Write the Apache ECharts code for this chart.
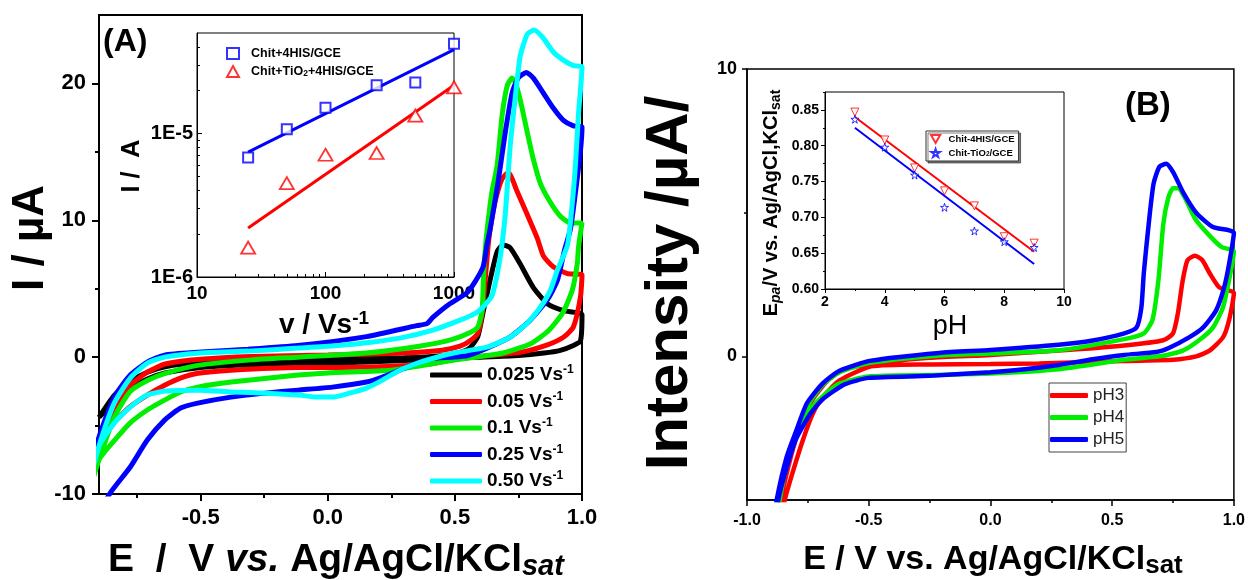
<!DOCTYPE html>
<html>
<head>
<meta charset="utf-8">
<script src="https://cdn.jsdelivr.net/npm/echarts@6.0.0/dist/echarts.min.js"></script>
<style>
  html, body { margin: 0; padding: 0; background: #fff; }
  #chart { width: 1248px; height: 580px; }
</style>
</head>
<body>
<div id="chart"></div>
<script>
// ---------- Panel A: CVs at different scan rates, [E / V, I / µA] ----------
const cvScan025 = [
  [-0.9, -4.4], [-0.84, -2.8], [-0.78, -1.8], [-0.71, -1.1], [-0.64, -0.7], [-0.5, -0.4], [-0.3, -0.25],
  [0.0, -0.15], [0.3, -0.05], [0.45, 0.1], [0.52, 0.35], [0.56, 0.7], [0.59, 1.5], [0.61, 3.2],
  [0.638, 5.6], [0.666, 7.7], [0.69, 8.2], [0.717, 8.0], [0.757, 6.8], [0.808, 5.1], [0.864, 3.9],
  [0.927, 3.4], [1.0, 3.1],
  [0.994, 1.2], [0.966, 0.85], [0.915, 0.5], [0.85, 0.3], [0.75, 0.12], [0.6, 0.0], [0.45, -0.1],
  [0.3, -0.25], [0.0, -0.45], [-0.3, -0.55], [-0.5, -0.75], [-0.64, -1.15], [-0.71, -1.6],
  [-0.78, -2.4], [-0.84, -3.3], [-0.9, -4.4]
];
const cvScan05 = [
  [-0.95, -9.5], [-0.9, -6.6], [-0.84, -3.7], [-0.78, -2.1], [-0.71, -1.1], [-0.64, -0.5], [-0.5, -0.15],
  [-0.3, 0.05], [0.0, 0.15], [0.3, 0.3], [0.45, 0.5], [0.52, 0.8], [0.56, 1.2], [0.59, 1.75],
  [0.607, 3.2], [0.619, 5.6], [0.63, 8.0], [0.64, 9.5], [0.66, 11.5], [0.685, 13.0], [0.71, 13.5],
  [0.745, 12.1], [0.785, 10.4], [0.824, 8.7], [0.848, 7.4], [0.887, 6.6], [0.943, 6.1], [1.0, 6.0],
  [0.994, 4.4], [0.966, 2.2], [0.927, 1.45], [0.864, 0.9], [0.757, 0.35], [0.626, 0.1], [0.5, -0.15],
  [0.4, -0.5], [0.2, -0.7], [0.0, -0.75], [-0.12, -0.75], [-0.38, -0.95], [-0.51, -1.17],
  [-0.58, -1.53], [-0.64, -2.04], [-0.71, -2.77], [-0.78, -3.65], [-0.856, -5.1], [-0.9, -6.6],
  [-0.95, -9.5]
];
const cvScan1 = [
  [-0.95, -10.5], [-0.9, -7.5], [-0.84, -4.4], [-0.777, -2.5], [-0.71, -1.7], [-0.642, -1.2],
  [-0.512, -0.6], [-0.3, -0.2], [-0.117, 0.0], [0.15, 0.3], [0.36, 0.8], [0.49, 1.3], [0.56, 1.8],
  [0.59, 2.2], [0.607, 3.4], [0.612, 5.6], [0.619, 7.8], [0.628, 9.5], [0.645, 12.0], [0.666, 14.0],
  [0.686, 17.7], [0.706, 19.85], [0.725, 20.4], [0.737, 20.1], [0.757, 18.8], [0.785, 16.4],
  [0.808, 14.5], [0.836, 12.7], [0.876, 11.3], [0.915, 10.3], [0.955, 9.8], [1.0, 9.8],
  [0.986, 8.0], [0.982, 6.9], [0.962, 4.9], [0.923, 3.2], [0.87, 1.97], [0.8, 1.0], [0.69, 0.3],
  [0.56, -0.05], [0.45, -0.35], [0.36, -0.65], [0.25, -0.95], [0.0, -1.15], [-0.117, -1.31],
  [-0.38, -1.82], [-0.512, -2.19], [-0.579, -2.55], [-0.642, -3.14], [-0.71, -3.86], [-0.777, -4.8],
  [-0.84, -6.1], [-0.9, -7.5], [-0.95, -10.5]
];
const cvScan25 = [
  [-0.95, -9.5], [-0.9, -5.84], [-0.84, -2.92], [-0.777, -1.31], [-0.71, -0.36], [-0.642, 0.15],
  [-0.512, 0.36], [-0.314, 0.58], [-0.117, 0.85], [0.152, 1.5], [0.35, 2.3], [0.39, 2.45],
  [0.413, 2.9], [0.48, 3.9], [0.547, 4.7], [0.579, 5.5], [0.611, 6.6], [0.626, 8.2], [0.638, 9.3],
  [0.67, 12.8], [0.698, 16.4], [0.725, 19.3], [0.749, 20.4], [0.781, 20.8], [0.808, 20.4],
  [0.848, 19.3], [0.887, 18.2], [0.927, 17.3], [0.966, 16.9], [1.0, 16.8],
  [0.994, 15.1], [0.974, 12.0], [0.955, 9.4], [0.931, 7.8], [0.903, 5.6], [0.864, 4.2], [0.796, 2.7],
  [0.717, 1.46], [0.626, 0.66], [0.547, 0.1], [0.48, 0.0], [0.413, -0.1], [0.35, -0.44],
  [0.283, -0.95], [0.215, -1.46], [0.152, -1.82], [0.018, -2.19], [-0.117, -2.41], [-0.247, -2.63],
  [-0.381, -2.92], [-0.512, -3.36], [-0.579, -3.72], [-0.642, -4.6], [-0.71, -6.06], [-0.777, -8.03],
  [-0.856, -9.93], [-0.9, -11.5], [-0.95, -14]
];
const cvScan50 = [
  [-0.95, -10], [-0.9, -6.5], [-0.84, -3.36], [-0.777, -1.53], [-0.71, -0.44], [-0.642, 0.0],
  [-0.512, 0.29], [-0.314, 0.44], [-0.117, 0.66], [0.1, 0.95], [0.283, 1.39], [0.413, 1.97],
  [0.52, 2.7], [0.58, 3.2], [0.61, 3.65], [0.646, 4.5], [0.678, 7.3], [0.698, 10.4], [0.717, 15.3],
  [0.737, 18.9], [0.757, 22.0], [0.785, 23.6], [0.812, 23.9], [0.848, 23.3], [0.887, 22.3],
  [0.927, 21.7], [0.966, 21.3], [1.0, 21.2],
  [0.986, 17.7], [0.974, 14.0], [0.962, 11.3], [0.943, 8.2], [0.903, 6.35], [0.876, 4.9],
  [0.836, 3.65], [0.785, 2.5], [0.717, 1.46], [0.626, 0.73], [0.492, 0.29], [0.45, 0.1],
  [0.36, -0.4], [0.283, -0.95], [0.215, -1.68], [0.152, -2.26], [0.085, -2.63], [0.018, -2.92],
  [-0.045, -2.92], [-0.113, -2.77], [-0.243, -2.63], [-0.377, -2.55], [-0.508, -2.41],
  [-0.638, -2.48], [-0.71, -2.77], [-0.777, -3.65], [-0.84, -4.82], [-0.9, -6.5], [-0.95, -10]
];
const scanRateLabels = ['0.025 Vs-1', '0.05 Vs-1', '0.1 Vs-1', '0.25 Vs-1', '0.50 Vs-1'];
const scanRateColors = ['#000000', '#ff0000', '#00ee00', '#0000ff', '#00ffff'];

// Inset A: peak current vs scan rate (log-log)
const scanRates = [25, 50, 100, 250, 500, 1000];
const ipChit4HIS = [6.8e-6, 1.07e-5, 1.51e-5, 2.16e-5, 2.26e-5, 4.2e-5];
const ipChitTiO24HIS = [1.6e-6, 4.5e-6, 7.1e-6, 7.3e-6, 1.33e-5, 2.09e-5];
const fitChit4HIS = [[25, 7.4e-6], [1000, 3.83e-5]];
const fitChitTiO24HIS = [[25, 2.19e-6], [1000, 2.16e-5]];

// ---------- Panel B: CVs at different pH, [E / V, I / µA] ----------
const cvPH3 = [
  [-0.95, -8.5], [-0.862, -5.0], [-0.82, -3.5], [-0.78, -2.4], [-0.73, -1.5], [-0.67, -0.85],
  [-0.6, -0.45], [-0.49, -0.25], [-0.25, -0.05], [0.0, 0.05], [0.28, 0.2], [0.55, 0.38], [0.71, 0.56],
  [0.75, 0.8], [0.77, 1.5], [0.79, 2.65], [0.81, 3.35], [0.84, 3.5], [0.87, 3.35], [0.9, 2.9],
  [0.94, 2.4], [1.0, 2.2],
  [0.98, 1.25], [0.955, 0.66], [0.9, 0.2], [0.845, 0.0], [0.75, -0.12], [0.61, -0.15], [0.4, -0.2],
  [0.2, -0.25], [0.0, -0.27], [-0.25, -0.28], [-0.49, -0.35], [-0.62, -0.84], [-0.69, -1.43],
  [-0.73, -2.0], [-0.77, -2.9], [-0.81, -3.97], [-0.845, -5.0], [-0.95, -9]
];
const cvPH4 = [
  [-0.95, -8.5], [-0.87, -5.0], [-0.83, -3.6], [-0.79, -2.6], [-0.75, -1.7], [-0.69, -1.0],
  [-0.62, -0.55], [-0.49, -0.22], [-0.21, 0.03], [0.0, 0.1], [0.28, 0.21], [0.55, 0.6], [0.63, 0.8],
  [0.665, 1.25], [0.69, 2.65], [0.71, 4.6], [0.73, 5.5], [0.75, 5.85], [0.77, 5.85], [0.8, 5.5],
  [0.84, 4.8], [0.9, 4.2], [0.95, 3.8], [1.0, 3.65],
  [0.98, 2.65], [0.955, 1.7], [0.914, 1.0], [0.857, 0.56], [0.79, 0.2], [0.71, 0.02], [0.55, -0.12],
  [0.28, -0.45], [0.0, -0.6], [-0.25, -0.65], [-0.5, -0.7], [-0.62, -0.95], [-0.69, -1.4],
  [-0.75, -1.95], [-0.8, -2.8], [-0.84, -3.85], [-0.866, -5.0], [-0.95, -8.5]
];
const cvPH5 = [
  [-0.95, -8.5], [-0.878, -5.0], [-0.837, -3.5], [-0.796, -2.55], [-0.755, -1.65], [-0.69, -0.95],
  [-0.62, -0.5], [-0.49, -0.15], [-0.21, 0.12], [0.0, 0.22], [0.28, 0.4], [0.42, 0.55], [0.55, 0.8],
  [0.6, 1.0], [0.62, 1.7], [0.63, 2.9], [0.65, 4.6], [0.67, 6.0], [0.694, 6.6], [0.722, 6.7],
  [0.751, 6.4], [0.792, 5.7], [0.845, 5.0], [0.914, 4.5], [1.0, 4.3],
  [0.98, 3.2], [0.96, 2.4], [0.927, 1.6], [0.873, 1.0], [0.816, 0.66], [0.735, 0.3], [0.682, 0.15],
  [0.55, 0.05], [0.42, -0.1], [0.28, -0.3], [0.14, -0.45], [0.0, -0.55], [-0.25, -0.68],
  [-0.5, -0.75], [-0.6, -0.98], [-0.69, -1.5], [-0.74, -2.0], [-0.8, -2.9], [-0.84, -3.95],
  [-0.872, -5.0], [-0.95, -8.5]
];
const phLabels = ['pH3', 'pH4', 'pH5'];
const phColors = ['#ff0000', '#00ee00', '#0000ff'];

// Inset B: anodic peak potential vs pH
const pHValues = [3, 4, 5, 6, 7, 8, 9];
const epaChit4HIS = [0.847, 0.808, 0.769, 0.737, 0.716, 0.673, 0.664];
const epaChitTiO2 = [0.837, 0.798, 0.759, 0.714, 0.681, 0.666, 0.658];
const fitEpaChit4HIS = [[3, 0.840], [9, 0.652]];
const fitEpaChitTiO2 = [[3, 0.825], [9, 0.635]];

// ---------- chart ----------
const FONT = "'Liberation Sans', Arial, Helvetica, sans-serif";
const BLACK = '#000';
const STAR = 'path://M50,0 L61,35 L98,35 L68,57 L79,91 L50,70 L21,91 L32,57 L2,35 L39,35 Z';
const DOWN_TRI = 'path://M0,0 L100,0 L50,87 Z';

function labelStyle(size, extra) {
  return Object.assign({ color: BLACK, fontFamily: FONT, fontWeight: 'bold', fontSize: size }, extra || {});
}
// an axis that only draws extra (minor) tick marks
function tickOnlyAxis(type, gridIndex, min, max, position, values, len, width, inside) {
  return {
    type: type, gridIndex: gridIndex, min: min, max: max, position: position,
    axisLine: { show: false, onZero: false }, axisLabel: { show: false }, splitLine: { show: false },
    axisTick: { show: true, inside: !!inside, length: len, lineStyle: { color: BLACK, width: width }, customValues: values }
  };
}

const xAxes = [
  { // 0: panel A potential
    type: 'value', gridIndex: 0, min: -0.9, max: 1.0, position: 'bottom',
    axisLine: { onZero: false, lineStyle: { color: BLACK, width: 2 } },
    axisTick: { length: 7, lineStyle: { color: BLACK, width: 2 }, customValues: [-0.5, 0, 0.5, 1.0] },
    axisLabel: labelStyle(22, { margin: 13, customValues: [-0.5, 0, 0.5, 1.0], formatter: v => v.toFixed(1) }),
    splitLine: { show: false }
  },
  tickOnlyAxis('value', 0, -0.9, 1.0, 'bottom', [-0.75, -0.25, 0.25, 0.75], 4, 2), // 1
  { // 2: inset A scan rate (log)
    type: 'log', logBase: 10, gridIndex: 1, min: 10, max: 1000, position: 'bottom',
    axisLine: { onZero: false, lineStyle: { color: BLACK, width: 1 } },
    axisTick: { inside: true, length: 5, lineStyle: { color: BLACK, width: 1 }, customValues: [10, 100, 1000] },
    axisLabel: labelStyle(19, { margin: 7, customValues: [10, 100, 1000], formatter: v => String(Math.round(v)) }),
    splitLine: { show: false }
  },
  tickOnlyAxis('log', 1, 10, 1000, 'bottom', [20, 30, 40, 50, 60, 70, 80, 90, 200, 300, 400, 500, 600, 700, 800, 900], 3, 1, true), // 3
  { // 4: panel B potential
    type: 'value', gridIndex: 2, min: -1.0, max: 1.0, interval: 0.5, position: 'bottom',
    axisLine: { onZero: false, lineStyle: { color: BLACK, width: 1.5 } },
    axisTick: { length: 6, lineStyle: { color: BLACK, width: 1.5 } },
    minorTick: { show: true, splitNumber: 2, length: 3, lineStyle: { color: BLACK, width: 1.5 } },
    axisLabel: labelStyle(16, { margin: 13, formatter: v => v.toFixed(1) }),
    splitLine: { show: false }, minorSplitLine: { show: false }
  },
  { // 5: inset B pH
    type: 'value', gridIndex: 3, min: 2, max: 10, interval: 2, position: 'bottom',
    axisLine: { onZero: false, lineStyle: { color: BLACK, width: 1 } },
    axisTick: { length: 4, lineStyle: { color: BLACK, width: 1 } },
    minorTick: { show: true, splitNumber: 2, length: 2, lineStyle: { color: BLACK, width: 1 } },
    axisLabel: labelStyle(14, { margin: 6 }),
    splitLine: { show: false }, minorSplitLine: { show: false }
  }
];

const yAxes = [
  { // 0: panel A current
    type: 'value', gridIndex: 0, min: -10, max: 25, position: 'left',
    axisLine: { onZero: false, lineStyle: { color: BLACK, width: 2 } },
    axisTick: { length: 7, lineStyle: { color: BLACK, width: 2 }, customValues: [-10, 0, 10, 20] },
    axisLabel: labelStyle(22, { margin: 13, customValues: [-10, 0, 10, 20] }),
    splitLine: { show: false }
  },
  tickOnlyAxis('value', 0, -10, 25, 'left', [-5, 5, 15], 4, 2), // 1
  { // 2: inset A current (log)
    type: 'log', logBase: 10, gridIndex: 1, min: 1e-6, max: 5e-5, position: 'left',
    axisLine: { onZero: false, lineStyle: { color: BLACK, width: 1 } },
    axisTick: { inside: true, length: 5, lineStyle: { color: BLACK, width: 1 }, customValues: [1e-6, 1e-5] },
    axisLabel: labelStyle(20, { margin: 4, customValues: [1e-6, 1e-5], formatter: v => (v > 5e-6 ? '1E-5' : '1E-6') }),
    splitLine: { show: false }
  },
  tickOnlyAxis('log', 1, 1e-6, 5e-5, 'left', [2e-6, 3e-6, 4e-6, 5e-6, 6e-6, 7e-6, 8e-6, 9e-6, 2e-5, 3e-5, 4e-5], 3, 1, true), // 3
  { // 4: panel B current
    type: 'value', gridIndex: 2, min: -5, max: 10, position: 'left',
    axisLine: { onZero: false, lineStyle: { color: BLACK, width: 1.5 } },
    axisTick: { length: 5, lineStyle: { color: BLACK, width: 1.5 }, customValues: [0, 10] },
    axisLabel: labelStyle(18, { margin: 10, customValues: [0, 10] }),
    splitLine: { show: false }
  },
  tickOnlyAxis('value', 2, -5, 10, 'left', [5], 3, 1.5), // 5
  { // 6: inset B peak potential
    type: 'value', gridIndex: 3, min: 0.6, max: 0.875, position: 'left',
    axisLine: { onZero: false, lineStyle: { color: BLACK, width: 1 } },
    axisTick: { length: 4, lineStyle: { color: BLACK, width: 1 }, customValues: [0.6, 0.65, 0.7, 0.75, 0.8, 0.85] },
    axisLabel: labelStyle(14, { margin: 6, customValues: [0.6, 0.65, 0.7, 0.75, 0.8, 0.85], formatter: v => v.toFixed(2) }),
    splitLine: { show: false }
  },
  tickOnlyAxis('value', 3, 0.6, 0.875, 'left', [0.625, 0.675, 0.725, 0.775, 0.825, 0.875], 2, 1) // 7
];

const series = [];
[cvScan025, cvScan05, cvScan1, cvScan25, cvScan50].forEach((d, i) => {
  series.push({
    name: scanRateLabels[i], type: 'line', xAxisIndex: 0, yAxisIndex: 0, data: d,
    symbol: 'none', smooth: 0.2, clip: true, color: scanRateColors[i],
    lineStyle: { color: scanRateColors[i], width: 5 }
  });
});
series.push(
  { name: 'Chit+4HIS/GCE', type: 'scatter', xAxisIndex: 2, yAxisIndex: 2, clip: false,
    data: scanRates.map((v, i) => [v, ipChit4HIS[i]]), symbol: 'rect', symbolSize: 10,
    itemStyle: { color: '#fff', borderColor: '#0000ff', borderWidth: 2 }, z: 4 },
  { name: 'Chit+TiO2+4HIS/GCE', type: 'scatter', xAxisIndex: 2, yAxisIndex: 2, clip: false,
    data: scanRates.map((v, i) => [v, ipChitTiO24HIS[i]]), symbol: 'triangle', symbolSize: [14, 12],
    itemStyle: { color: '#fff', borderColor: '#ff0000', borderWidth: 1.8 }, z: 4 },
  { name: 'fitA1', type: 'line', xAxisIndex: 2, yAxisIndex: 2, data: fitChit4HIS, symbol: 'none',
    lineStyle: { color: '#0000ff', width: 3 }, z: 3 },
  { name: 'fitA2', type: 'line', xAxisIndex: 2, yAxisIndex: 2, data: fitChitTiO24HIS, symbol: 'none',
    lineStyle: { color: '#ff0000', width: 3 }, z: 3 }
);
[cvPH3, cvPH4, cvPH5].forEach((d, i) => {
  series.push({
    name: phLabels[i], type: 'line', xAxisIndex: 4, yAxisIndex: 4, data: d,
    symbol: 'none', smooth: 0.2, clip: true, color: phColors[i],
    lineStyle: { color: phColors[i], width: 4.5 }
  });
});
series.push(
  { name: 'fitB1', type: 'line', xAxisIndex: 5, yAxisIndex: 6, data: fitEpaChit4HIS, symbol: 'none',
    lineStyle: { color: '#ff0000', width: 2 }, z: 3 },
  { name: 'fitB2', type: 'line', xAxisIndex: 5, yAxisIndex: 6, data: fitEpaChitTiO2, symbol: 'none',
    lineStyle: { color: '#0000ff', width: 2 }, z: 3 },
  { name: 'Chit-4HIS/GCE', type: 'scatter', xAxisIndex: 5, yAxisIndex: 6,
    data: pHValues.map((v, i) => [v, epaChit4HIS[i]]), symbol: DOWN_TRI, symbolSize: 8,
    itemStyle: { color: '#fff', borderColor: '#ff0000', borderWidth: 1 }, z: 4 },
  { name: 'Chit-TiO2/GCE', type: 'scatter', xAxisIndex: 5, yAxisIndex: 6,
    data: pHValues.map((v, i) => [v, epaChitTiO2[i]]), symbol: STAR, symbolSize: 8,
    itemStyle: { color: '#fff', borderColor: '#0000ff', borderWidth: 1 }, z: 4 }
);

const legends = [
  { // panel A scan rates
    left: 430, top: 364, orient: 'vertical', padding: 0, itemGap: 6, itemWidth: 52, itemHeight: 5,
    icon: 'roundRect', selectedMode: false, data: scanRateLabels,
    formatter: name => '{a|' + name.replace(' Vs-1', ' Vs') + '}{s|-1}',
    textStyle: { rich: {
      a: labelStyle(19, { lineHeight: 22 }),
      s: labelStyle(12, { lineHeight: 14, verticalAlign: 'top' })
    } }
  },
  { // inset A
    left: 226, top: 47, orient: 'vertical', padding: 0, itemGap: 5, itemWidth: 12, itemHeight: 11,
    selectedMode: false, data: ['Chit+4HIS/GCE', 'Chit+TiO2+4HIS/GCE'],
    formatter: name => name === 'Chit+4HIS/GCE' ? '{f|Chit+4HIS/GCE}' : '{f|Chit+TiO}{b|2}{a|+4HIS/GCE}',
    textStyle: { rich: {
      f: labelStyle(12.5, { lineHeight: 14, padding: [0, 0, 0, 7] }),
      a: labelStyle(12.5, { lineHeight: 14 }),
      b: labelStyle(8.5, { lineHeight: 8, verticalAlign: 'bottom' })
    } }
  },
  { // panel B pH
    left: 1049, top: 383, orient: 'vertical', padding: [3, 2, 3, 1], itemGap: 3, itemWidth: 38, itemHeight: 5,
    icon: 'roundRect', selectedMode: false, data: phLabels, borderColor: '#444', borderWidth: 1,
    textStyle: { color: '#222', fontFamily: FONT, fontSize: 17, lineHeight: 19 }
  },
  { // inset B
    left: 926, top: 131, orient: 'vertical', padding: [3, 4, 3, 4], itemGap: 4, itemWidth: 16, itemHeight: 8,
    selectedMode: false, data: ['Chit-4HIS/GCE', 'Chit-TiO2/GCE'], borderColor: '#333', borderWidth: 1,
    shadowColor: 'rgba(0,0,0,0.5)', shadowOffsetX: 2, shadowOffsetY: 2, backgroundColor: '#fff',
    formatter: name => name === 'Chit-4HIS/GCE' ? '{a|Chit-4HIS/GCE}' : '{a|Chit-TiO}{b|2}{a|/GCE}',
    textStyle: { rich: {
      a: labelStyle(9.5, { lineHeight: 10 }),
      b: labelStyle(6.5, { lineHeight: 6, verticalAlign: 'bottom' })
    } }
  }
];

function txt(x, y, text, rich, rotation, align) {
  return {
    type: 'text', x: x, y: y, rotation: rotation || 0, z: 10,
    style: { text: text, rich: rich, align: align || 'center', verticalAlign: 'middle', fill: BLACK }
  };
}

const graphics = [
  txt(103, 42, '{t|(A)}', { t: labelStyle(32) }, 0, 'left'),
  txt(31, 238, '{t|I / µA}', { t: labelStyle(44) }, Math.PI / 2),
  txt(336, 560, '{n|E  /  V }{i|vs.}{n| Ag/AgCl/KCl}{s|sat}', {
    n: labelStyle(39, { lineHeight: 42 }),
    i: labelStyle(39, { lineHeight: 42, fontStyle: 'italic' }),
    s: labelStyle(29, { lineHeight: 23, fontStyle: 'italic', verticalAlign: 'bottom' })
  }),
  txt(132, 166, '{t|I /  A}', { t: labelStyle(25) }, Math.PI / 2),
  txt(324, 325, '{n|v / Vs}{s|-1}', {
    n: labelStyle(28, { lineHeight: 32 }),
    s: labelStyle(19, { lineHeight: 17, verticalAlign: 'top' })
  }),
  txt(1125, 106, '{t|(B)}', { t: labelStyle(33) }, 0, 'left'),
  txt(670, 283, '{t|Intensity /µA/}', { t: labelStyle(60) }, Math.PI / 2),
  txt(993, 560, '{n|E / V vs. Ag/AgCl/KCl}{s|sat}', {
    n: labelStyle(34, { lineHeight: 38 }),
    s: labelStyle(26, { lineHeight: 22, verticalAlign: 'bottom' })
  }),
  txt(771, 203, '{n|E}{p|pa}{n|/V vs. Ag/AgCl,KCl}{s|sat}', {
    n: labelStyle(20, { lineHeight: 24 }),
    p: labelStyle(14, { lineHeight: 14, fontStyle: 'italic', verticalAlign: 'bottom' }),
    s: labelStyle(14, { lineHeight: 14, verticalAlign: 'bottom' })
  }, Math.PI / 2),
  txt(950, 327, '{t|pH}', { t: { color: BLACK, fontFamily: FONT, fontSize: 27 } })
];

const option = {
  animation: false,
  backgroundColor: '#fff',
  grid: [
    { left: 99, top: 15, width: 483, height: 479, show: true, borderColor: BLACK, borderWidth: 2, backgroundColor: 'transparent' },
    { left: 197, top: 33, width: 257, height: 244, show: true, borderColor: BLACK, borderWidth: 1, backgroundColor: '#fff' },
    { left: 747, top: 69, width: 490, height: 431, show: true, borderColor: BLACK, borderWidth: 1.5, backgroundColor: 'transparent' },
    { left: 825, top: 92, width: 239, height: 197, show: true, borderColor: BLACK, borderWidth: 1, backgroundColor: '#fff' }
  ],
  xAxis: xAxes,
  yAxis: yAxes,
  legend: legends,
  series: series,
  graphic: { elements: graphics }
};

const chart = echarts.init(document.getElementById('chart'));
chart.setOption(option);
</script>
</body>
</html>
